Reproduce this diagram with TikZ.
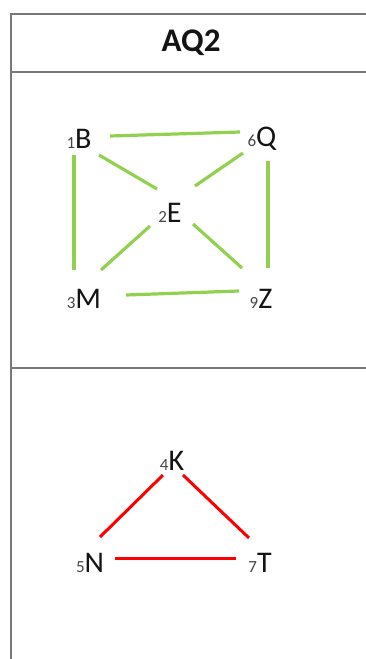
\documentclass[tikz,border=0pt]{standalone}
\usepackage{fontspec}
\setmainfont{Carlito}
\usetikzlibrary{calc}
\definecolor{edgegreen}{RGB}{146,208,80}
\definecolor{edgered}{RGB}{255,0,0}
\definecolor{rulegray}{RGB}{120,120,120}
\definecolor{inkc}{RGB}{20,20,20}
\definecolor{subc}{RGB}{70,70,70}
\newcommand{\vlab}[2]{{\fontsize{17}{17}\selectfont\color{subc}#1}#2}
\begin{document}
\begin{tikzpicture}[x=1pt,y=-1pt,
  rule/.style={draw=rulegray, line width=1.4pt},
  vtx/.style={inner sep=0pt, text=inkc, font=\fontsize{30}{30}\selectfont},
  hdr/.style={inner sep=0pt, text=inkc, font=\fontsize{33}{33}\selectfont\bfseries},
  gedge/.style={draw=edgegreen, line width=3.2pt},
  redge/.style={draw=edgered, line width=3pt}]
\useasboundingbox (0,0) rectangle (366,659);
% table rules
\draw[rule] (366,14) -- (11,14) -- (11,659);
\draw[rule] (11,72) -- (366,72);
\draw[rule] (11,368) -- (366,368);
\node[hdr] (title) at (191,43) {AQ2};
% upper graph
\node[vtx] (B) at (79,139) {\vlab{1}{B}};
\node[vtx] (Q) at (262,139) {\vlab{6}{Q}};
\node[vtx] (E) at (170,213) {\vlab{2}{E}};
\node[vtx] (M) at (84,299) {\vlab{3}{M}};
\node[vtx] (Z) at (261,299) {\vlab{9}{Z}};
\draw[gedge] ($(B)+(31,-3)$) -- ($(Q)+(-22,-7)$);
\draw[gedge] ($(B)+(-5,16)$) -- ($(M)+(-10,-29)$);
\draw[gedge] ($(Q)+(6,22)$) -- ($(Z)+(7,-31)$);
\draw[gedge] ($(B)+(20,16)$) -- ($(E)+(-13,-24)$);
\draw[gedge] ($(Q)+(-19,14)$) -- ($(E)+(25,-27)$);
\draw[gedge] ($(M)+(17,-29)$) -- ($(E)+(-20,13)$);
\draw[gedge] ($(Z)+(-19,-31)$) -- ($(E)+(23,11)$);
\draw[gedge] ($(M)+(42,-4)$) -- ($(Z)+(-22,-8)$);
% lower graph
\node[vtx] (K) at (172,461) {\vlab{4}{K}};
\node[vtx] (N) at (90,563) {\vlab{5}{N}};
\node[vtx] (T) at (260,563) {\vlab{7}{T}};
\draw[redge] ($(K)+(-9,14)$) -- ($(N)+(10,-26)$);
\draw[redge] ($(K)+(11,14)$) -- ($(T)+(-11,-25)$);
\draw[redge] ($(N)+(25,-5)$) -- ($(T)+(-24,-5)$);
\end{tikzpicture}
\end{document}
